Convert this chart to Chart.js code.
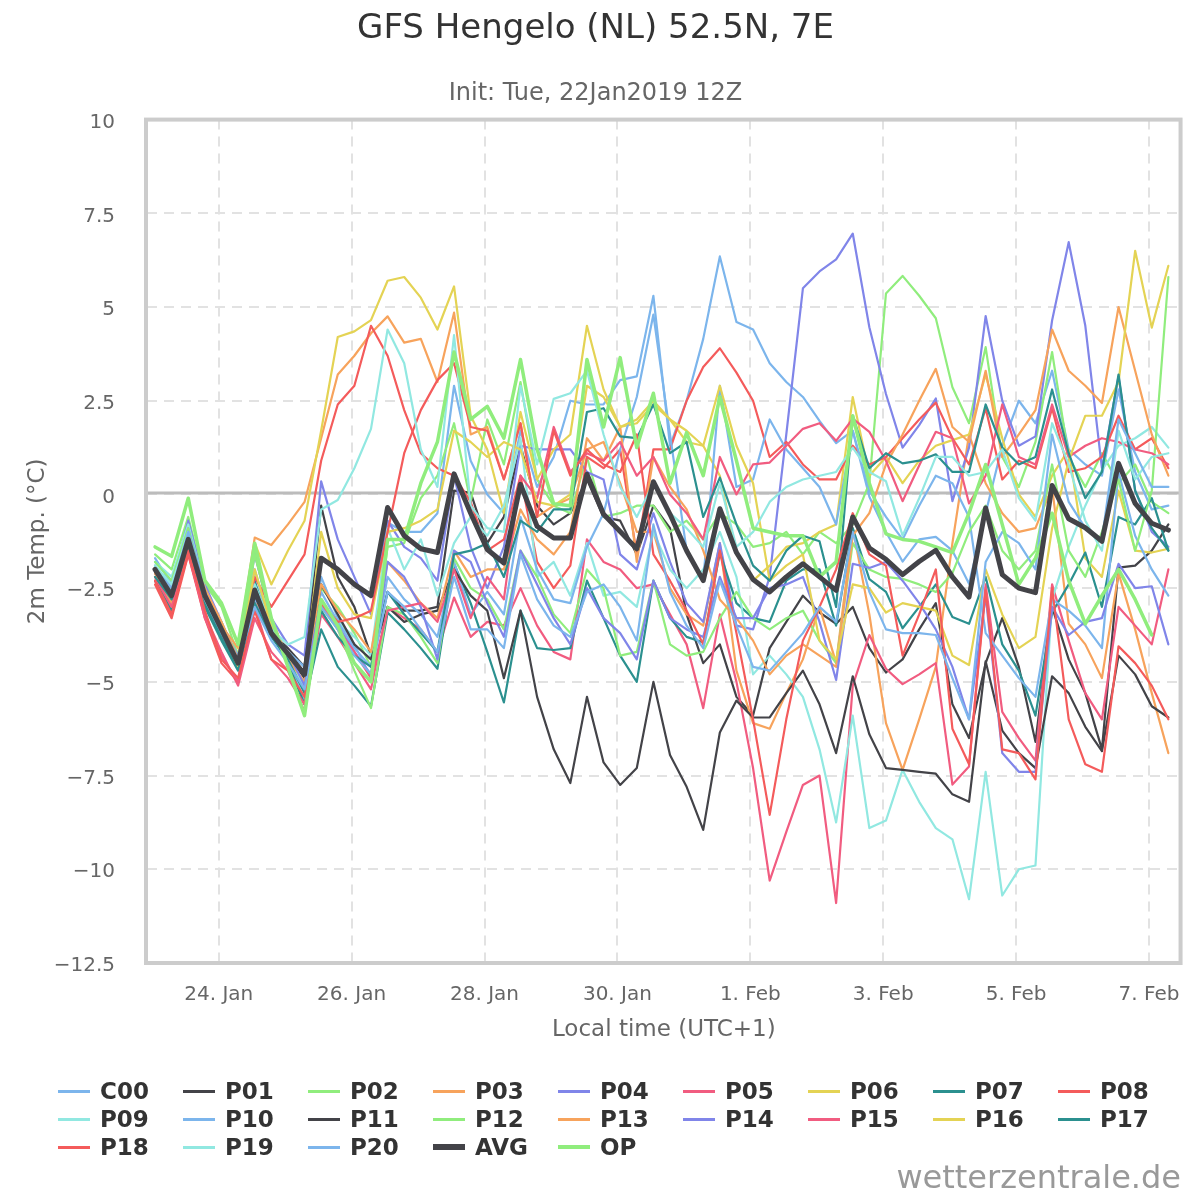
<!DOCTYPE html>
<html><head><meta charset="utf-8">
<script src="https://cdn.jsdelivr.net/npm/chart.js@4.4.1/dist/chart.umd.min.js"></script>
<style>
html,body{margin:0;padding:0;background:#fff;}
#wrap{position:relative;width:1200px;height:1200px;font-family:'DejaVu Sans',sans-serif;overflow:hidden;}
#c{position:absolute;left:0;top:0;}
.li{position:absolute;height:28px;display:flex;align-items:center;white-space:nowrap;}
.sym{display:inline-block;width:32px;}
.lt{font-weight:bold;font-size:23px;color:#333;margin-left:10px;line-height:28px;}
#credit{position:absolute;right:19px;top:1156px;font-size:32px;color:#999;line-height:42px;}
</style></head>
<body><div id="wrap"><canvas id="c" width="1200" height="1200"></canvas><div id="legend"></div><div id="credit">wetterzentrale.de</div></div>
<script>
const FF = "'DejaVu Sans', sans-serif";
const chartTitle = 'GFS Hengelo (NL) 52.5N, 7E';
const chartSubtitle = 'Init: Tue, 22Jan2019 12Z';
// hours since 24 Jan 00:00 local time
const hours = [-23,-17,-11,-5,1,7,13,19,25,31,37,43,49,55,61,67,73,79,85,91,97,103,109,115,121,127,133,139,145,151,157,163,169,175,181,187,193,199,205,211,217,223,229,235,241,247,253,259,265,271,277,283,289,295,301,307,313,319,325,331,337,343];
const tickHours = [0,48,96,144,192,240,288,336];
const tickLabels = ['24. Jan','26. Jan','28. Jan','30. Jan','1. Feb','3. Feb','5. Feb','7. Feb'];
const yTicks = [-12.5,-10,-7.5,-5,-2.5,0,2.5,5,7.5,10];

const C00 = [-1.7,-2.4,-0.7,-2.6,-3.6,-4.4,-2.0,-3.6,-4.4,-5.5, -2.2,-3.3,-4.0,-4.9,-0.75,-1.0,-1.0,-0.5,2.9,0.9, 0.0,-0.5,1.7,0.2,1.0,2.5,2.4,2.4,3.05,3.15, 5.3,1.3,2.5,4.15,6.35,4.6,4.4,3.5,3.0,2.6, 1.96,1.37,1.7,-0.06,-1.0,-1.79,-1.2,-1.13,-1.5,-2.38, -0.5,1.3,2.5,1.9,3.3,1.2,0.8,0.5,2.8,0.6,-0.4,-0.3];
const P01 = [-2.1,-2.8,-1.3,-2.9,-3.8,-4.6,-2.5,-3.7,-4.1,-4.6, -0.3,-2.2,-3.0,-4.3,-2.6,-3.1,-3.1,-3.0,0.1,0.05, -1.3,-0.6,1.3,-0.3,-0.8,-0.5,0.4,-0.6,-0.7,-1.6, -0.3,-0.9,-3.2,-4.5,-4.0,-5.4,-5.9,-4.1,-3.4,-2.7, -3.15,-3.45,-3.0,-4.1,-4.75,-4.4,-3.6,-2.9,-5.6,-6.5, -4.5,-3.3,-4.6,-6.6,-3.0,-4.4,-5.3,-6.8,-1.95,-1.9,-1.5,-0.8];
const P02 = [-1.6,-2.0,-0.6,-2.4,-3.0,-4.3,-1.5,-3.5,-4.5,-5.6, -2.5,-3.0,-3.7,-4.6,-1.4,-1.3,-0.1,0.5,1.9,-0.2, 2.0,0.8,3.0,0.4,-0.3,-0.5,1.0,-0.6,-0.5,-0.3, -0.3,-1.0,-0.7,-1.2,-0.5,-0.8,-1.4,-1.3,-1.0,-1.6, -1.0,-1.3,-0.8,0.3,5.36,5.83,5.3,4.7,2.86,1.9, 3.93,1.0,0.2,1.4,3.8,1.0,0.2,1.1,0.3,0.8,-0.2,-0.5];
const P03 = [-2.1,-2.9,-1.2,-2.8,-3.5,-4.1,-1.15,-1.35,-0.8,-0.2, 1.5,3.2,3.7,4.3,4.75,4.05,4.15,3.0,4.85,1.6, 1.8,0.4,1.9,-0.6,-0.3,-0.1,1.2,1.4,0.3,-1.0, -1.0,-2.5,-3.2,-3.5,-1.3,-4.7,-6.1,-6.25,-5.3,-4.4, -3.0,-4.5,-0.9,-3.2,-6.1,-7.35,-6.0,-4.6,-1.3,1.6, 0.3,-0.5,-1.0,-0.9,0.2,-3.45,-4.0,-4.9,-2.1,-3.6,-5.3,-6.9];
const P04 = [-1.9,-2.5,-0.7,-2.4,-3.4,-4.4,-1.6,-3.3,-4.0,-4.3, 0.35,-1.2,-2.2,-3.2,-0.7,-1.4,-1.7,-2.3,0.5,-1.4, -2.5,-1.4,1.3,1.2,1.2,1.2,0.6,0.4,-1.6,-2.0, -0.5,-1.8,-2.9,-3.4,-1.3,-3.5,-3.6,-2.2,1.6,5.5, 5.95,6.27,6.96,4.46,2.68,1.25,1.85,2.56,-0.18,1.25, 4.76,2.5,1.3,1.55,4.64,6.73,4.5,0.7,3.15,0.1,-1.0,-1.4];
const P05 = [-2.3,-3.1,-1.6,-3.2,-4.2,-5.1,-3.3,-4.2,-4.7,-5.8, -3.2,-3.8,-4.5,-5.2,-3.0,-3.3,-3.6,-4.2,-2.75,-3.8, -3.4,-3.5,-2.5,-3.5,-4.2,-4.4,-1.2,-1.8,-2.0,-2.5, -2.4,-3.2,-4.0,-5.7,-3.2,-5.0,-7.3,-10.3,-9.0,-7.75, -7.5,-10.9,-5.1,-3.75,-4.65,-5.06,-4.8,-4.5,-7.74,-7.26, -2.4,-5.8,-6.5,-7.1,-2.4,-3.9,-5.3,-6.0,-3.0,-3.5,-4.0,-2.0];
const P06 = [-2.0,-2.6,-1.1,-2.6,-3.5,-4.3,-1.3,-2.4,-1.5,-0.7, 1.7,4.2,4.35,4.65,5.7,5.8,5.25,4.4,5.55,2.1, 1.2,-0.5,2.2,0.4,1.2,1.6,4.5,2.8,1.8,1.9, 2.4,2.0,1.4,1.3,0.5,-1.6,-2.3,-1.9,-1.4,-1.3, -1.0,-0.8,2.6,0.5,1.0,0.3,0.9,1.3,1.45,1.6, 3.2,1.5,0.0,-0.6,0.5,1.2,-1.7,-2.2,0.1,-1.5,-1.55,-1.45];
const P07 = [-2.3,-3.1,-1.3,-2.9,-3.8,-4.6,-2.3,-3.7,-4.5,-5.6, -3.6,-4.6,-5.1,-5.65,-3.15,-3.6,-4.1,-4.65,-1.85,-2.9, -4.2,-5.55,-3.1,-4.1,-4.15,-4.1,-2.3,-3.3,-4.3,-5.0, -2.3,-3.3,-3.8,-3.95,-1.55,-2.9,-3.3,-3.4,-2.3,-2.0, -2.0,-3.5,-0.9,-2.26,-2.6,-3.57,-3.0,-2.4,-3.27,-3.45, -2.2,-4.0,-4.7,-5.9,-3.15,-2.4,-1.55,-3.0,-0.6,-0.8,-0.1,-1.5];
const P08 = [-2.4,-3.3,-1.6,-3.3,-4.5,-5.0,-2.2,-3.0,-2.3,-1.6, 0.9,2.4,2.9,4.5,3.7,2.25,1.1,0.7,0.5,-0.2, -1.5,-1.2,0.5,-1.8,-2.5,-1.9,1.0,0.7,1.2,-1.6, 1.2,1.2,2.5,3.4,3.9,3.25,2.5,1.0,1.4,0.8, 0.4,0.4,1.3,0.8,1.0,1.5,2.0,2.45,1.5,0.8, 2.3,0.4,0.9,0.7,2.3,0.6,0.7,1.0,2.1,1.2,1.5,0.7];
const P09 = [-1.8,-2.2,-0.8,-2.5,-3.5,-4.4,-2.4,-3.5,-4.3,-5.2, -3.0,-3.4,-3.8,-4.3,-0.9,-2.0,-1.2,-2.7,-1.3,-0.6, -1.1,-0.3,1.5,-2.2,-1.8,-2.7,-1.3,-2.7,-2.6,-3.0, -1.0,-2.0,-2.5,-2.0,-1.0,-2.2,-4.8,-4.3,-4.8,-5.4, -6.8,-8.75,-5.9,-8.9,-8.7,-7.35,-8.2,-8.9,-9.2,-10.8, -7.4,-10.7,-10.0,-9.9,-2.8,-1.4,-0.3,0.65,1.3,1.5,1.8,1.25];
const P10 = [-1.9,-2.5,-0.9,-2.5,-3.5,-4.3,-2.8,-3.8,-4.2,-4.6, -2.6,-3.4,-4.1,-4.6,-2.2,-2.8,-3.2,-3.8,-1.8,-3.2, -2.6,-3.2,-0.6,-2.0,-2.8,-2.9,-1.4,-0.5,1.2,2.6, 4.8,1.6,-1.5,-2.3,2.9,0.2,0.4,2.0,1.2,0.7, 0.2,-0.8,1.7,0.1,-0.6,-1.2,-0.3,0.5,0.3,-0.6, -3.7,-4.3,-4.9,-5.4,-2.8,-3.1,-3.5,-4.1,0.6,-1.1,-2.0,-2.7];
const P11 = [-2.0,-2.7,-1.1,-2.7,-3.6,-4.5,-2.7,-3.6,-4.3,-4.9, -2.4,-3.2,-4.0,-4.4,-3.0,-3.4,-3.2,-3.1,-2.0,-2.7, -3.1,-4.9,-3.1,-5.4,-6.8,-7.7,-5.4,-7.15,-7.75,-7.3, -5.0,-6.95,-7.8,-8.95,-6.35,-5.5,-5.95,-5.95,-5.3,-4.7, -5.6,-6.9,-4.85,-6.4,-7.3,-7.35,-7.4,-7.45,-8.0,-8.2, -4.45,-6.3,-6.9,-7.3,-4.85,-5.3,-6.2,-6.85,-4.3,-4.8,-5.65,-5.95];
const P12 = [-1.8,-2.3,-0.9,-2.7,-3.4,-4.5,-1.6,-3.3,-4.4,-5.3, -3.0,-3.6,-4.7,-5.7,-3.0,-3.2,-3.8,-4.5,-1.7,-2.5, -2.8,-3.6,-1.5,-2.2,-3.2,-3.7,-2.0,-2.5,-4.3,-4.2, -2.3,-4.0,-4.3,-4.2,-3.3,-2.6,-3.3,-3.6,-3.3,-3.1, -3.9,-4.5,-1.3,-2.0,-2.2,-2.25,-2.4,-2.6,-2.1,-1.0, -0.3,-1.5,-2.0,-1.5,0.8,-1.5,-2.2,-1.0,0.4,-1.5,0.1,5.8];
const P13 = [-2.2,-2.8,-1.3,-2.5,-3.4,-4.4,-2.9,-3.3,-4.4,-5.0, -2.4,-3.1,-3.6,-4.2,-1.8,-2.3,-2.9,-3.3,-1.5,-2.2, -2.0,-2.0,-0.4,-1.2,-1.6,-1.0,1.5,0.9,1.8,-1.8, 1.0,0.2,-0.4,-1.5,-2.8,-3.3,-3.9,-4.8,-4.3,-4.0, -4.3,-4.6,-1.1,-0.5,0.8,1.6,2.5,3.35,1.8,1.4, 3.3,1.0,1.6,2.25,4.4,3.3,2.9,2.44,5.0,3.3,1.6,0.5];
const P14 = [-2.0,-2.7,-1.0,-2.6,-3.6,-4.5,-2.9,-3.7,-4.2,-5.1, -2.8,-3.5,-4.2,-4.8,-1.8,-2.2,-3.0,-4.4,-1.5,-1.8, -2.9,-3.8,-1.5,-2.4,-3.3,-4.0,-2.5,-3.3,-3.7,-4.4, -2.3,-3.3,-3.6,-3.8,-2.2,-3.3,-3.3,-2.5,-2.4,-2.2, -3.4,-4.95,-1.85,-1.96,-1.8,-2.3,-2.9,-3.6,-4.6,-6.0, -2.7,-6.9,-7.4,-7.4,-3.0,-3.75,-3.4,-3.3,-1.85,-2.5,-2.45,-4.0];
const P15 = [-2.2,-3.0,-1.5,-3.3,-4.3,-5.0,-3.0,-4.4,-4.9,-5.6, -2.9,-3.6,-4.2,-4.9,-3.1,-3.0,-2.9,-3.4,-2.0,-3.3, -2.2,-2.8,0.5,-0.1,1.8,0.6,1.1,0.9,1.4,0.5, 1.0,0.0,-0.5,-1.2,1.0,0.0,0.8,0.85,1.3,1.75, 1.9,1.43,2.02,1.67,0.9,-0.18,0.77,1.67,1.5,-0.24, 0.5,2.4,1.0,0.8,2.4,1.0,1.3,1.5,1.4,1.2,1.1,0.8];
const P16 = [-2.0,-2.7,-1.2,-2.8,-3.6,-4.6,-2.0,-3.5,-4.3,-4.8, -1.0,-2.5,-3.2,-3.3,-1.0,-0.9,-0.7,-0.4,1.7,1.4, 1.0,1.4,1.2,-0.2,-0.3,0.0,2.9,2.6,1.8,2.0, 2.5,2.0,1.7,1.3,2.9,1.3,0.3,-2.3,-1.9,-1.6, -3.9,-4.4,-2.4,-2.5,-3.15,-2.9,-3.0,-3.1,-4.3,-4.55, -2.0,-3.2,-4.1,-3.8,-0.9,0.9,2.1,2.1,3.0,6.5,4.45,6.1];
const P17 = [-2.2,-2.8,-1.4,-3.0,-3.9,-4.7,-2.9,-3.8,-4.4,-5.3, -3.1,-3.8,-4.3,-4.6,-2.6,-3.2,-3.7,-4.2,-1.6,-1.5, -1.3,-2.2,-0.7,-1.0,-0.4,-0.4,2.2,2.3,1.55,1.5, 2.4,1.1,1.4,-0.6,0.45,-0.8,-1.9,-2.3,-1.5,-1.1, -1.25,-3.0,2.1,0.7,1.1,0.83,0.9,1.07,0.6,0.6, 2.4,1.25,0.8,1.0,2.8,1.1,-0.1,0.6,3.2,0.1,-0.9,-1.5];
const P18 = [-2.3,-3.2,-1.5,-3.1,-4.4,-4.9,-3.1,-4.4,-4.7,-5.4, -2.9,-3.4,-3.3,-3.1,-1.0,1.1,2.25,3.05,3.5,1.8, 1.7,0.4,1.9,-0.6,1.7,0.5,1.2,0.8,0.6,1.6, -1.6,-2.3,-3.1,-4.0,-1.5,-3.7,-6.0,-8.55,-6.0,-3.9, -3.0,-2.0,-0.5,-1.6,-1.9,-4.3,-3.2,-2.0,-6.25,-7.2, -2.56,-6.8,-6.9,-7.6,-2.5,-6.0,-7.2,-7.4,-4.05,-4.5,-5.1,-6.0];
const P19 = [-1.9,-2.4,-1.0,-2.7,-3.6,-4.5,-2.6,-3.6,-4.0,-3.8, -0.4,-0.15,0.7,1.75,4.4,3.5,1.2,0.2,4.25,-0.3, -0.9,-1.0,2.9,0.8,2.55,2.7,3.3,1.6,0.2,-0.6, 0.3,-0.5,-0.9,-1.4,0.3,-1.4,-1.0,-0.2,0.2,0.4, 0.5,0.6,1.25,0.6,0.35,-1.1,-0.1,1.0,1.0,0.5, 0.6,1.2,-0.1,-0.7,1.9,0.8,-0.7,-1.5,1.7,0.4,1.0,1.1];
const P20 = [-2.0,-2.6,-1.0,-2.8,-3.7,-4.5,-3.0,-3.9,-4.5,-5.2, -3.0,-3.6,-4.3,-4.8,-2.6,-3.0,-3.6,-4.2,-2.2,-3.6, -3.6,-4.1,-1.6,-2.8,-3.5,-3.8,-2.6,-2.4,-3.0,-3.9, -0.8,-2.6,-3.5,-4.1,-2.3,-3.5,-4.6,-4.7,-4.2,-3.7, -3.0,-3.4,-1.0,-2.6,-3.6,-3.7,-3.7,-3.75,-4.9,-6.0, -1.8,-1.0,-1.3,-2.0,1.6,-0.2,-0.9,-1.2,2.0,1.1,0.2,0.2];
const AVG = [-2.0,-2.7,-1.2,-2.7,-3.6,-4.5,-2.55,-3.7,-4.25,-4.8, -1.7,-2.0,-2.4,-2.7,-0.35,-1.1,-1.45,-1.55,0.55,-0.5, -1.47,-1.83,0.27,-0.85,-1.16,-1.16,0.54,-0.53,-0.99,-1.45, 0.34,-0.53,-1.5,-2.3,-0.38,-1.55,-2.27,-2.6,-2.2,-1.85, -2.2,-2.56,-0.6,-1.43,-1.73,-2.14,-1.79,-1.49,-2.2,-2.74, -0.36,-2.14,-2.5,-2.62,0.24,-0.65,-0.89,-1.25,0.83,-0.24,-0.77,-0.95];
const OP = [-1.4,-1.65,-0.1,-2.3,-2.9,-4.0,-1.3,-3.3,-4.6,-5.9, -2.8,-3.5,-4.5,-5.0,-1.2,-1.2,0.3,1.4,3.8,2.0, 2.35,1.5,3.6,1.2,-0.25,-0.3,3.6,1.8,3.65,1.25, 2.7,0.3,1.65,0.5,2.6,0.9,-0.9,-1.0,-1.1,-1.1, -2.2,-1.8,2.1,0.3,-1.05,-1.2,-1.25,-1.4,-1.55,-0.5, 0.8,-0.8,-2.4,-1.7,-0.5,-2.3,-3.45,-2.7,-2.0,-2.8,-3.75,null];

const seriesNames = ['C00','P01','P02','P03','P04','P05','P06','P07','P08','P09','P10','P11','P12','P13','P14','P15','P16','P17','P18','P19','P20','AVG','OP'];
const seriesValues = [C00,P01,P02,P03,P04,P05,P06,P07,P08,P09,P10,P11,P12,P13,P14,P15,P16,P17,P18,P19,P20,AVG,OP];
const palette = ['#7cb5ec','#434348','#90ed7d','#f7a35c','#8085e9','#f15c80','#e4d354','#2b908f','#f45b5b','#91e8e1'];
const seriesColors = seriesNames.map((n,i)=> n==='AVG' ? '#434348' : n==='OP' ? '#90ed7d' : palette[i%10]);
const seriesWidths = seriesNames.map(n=> n==='AVG' ? 5 : n==='OP' ? 3.5 : 2.2);

const datasets = seriesNames.map((name,i)=>({
  label:name,
  data: hours.map((h,k)=>({x:h, y:seriesValues[i][k]})),
  borderColor: seriesColors[i],
  backgroundColor: seriesColors[i],
  borderWidth: seriesWidths[i],
  pointRadius:0, fill:false, tension:0, spanGaps:false,
  borderJoinStyle:'round', borderCapStyle:'round',
  order: name==='AVG' ? 0 : name==='OP' ? 1 : 100 - i
}));

const hcGrid = {
  id:'hcGrid',
  beforeDatasetsDraw(chart){
    const {ctx, chartArea:a, scales:{x,y}} = chart;
    ctx.save();
    ctx.strokeStyle='#e2e2e2'; ctx.lineWidth=2; ctx.setLineDash([10,7]);
    yTicks.forEach(v=>{ const py=Math.round(y.getPixelForValue(v)); ctx.beginPath(); ctx.moveTo(a.left,py); ctx.lineTo(a.right,py); ctx.stroke(); });
    tickHours.forEach(v=>{ const px=Math.round(x.getPixelForValue(v)); ctx.beginPath(); ctx.moveTo(px,a.top); ctx.lineTo(px,a.bottom); ctx.stroke(); });
    ctx.setLineDash([]);
    ctx.strokeStyle='#bcbcbc'; ctx.lineWidth=3;
    const z = y.getPixelForValue(0) - 1.5;
    ctx.beginPath(); ctx.moveTo(a.left,z); ctx.lineTo(a.right,z); ctx.stroke();
    ctx.restore();
  },
  afterDraw(chart){
    const {ctx, chartArea:a} = chart;
    ctx.save(); ctx.strokeStyle='#cccccc'; ctx.lineWidth=4;
    ctx.strokeRect(a.left-1, a.top, a.right-a.left+1, a.bottom-a.top);
    ctx.restore();
  }
};

new Chart(document.getElementById('c').getContext('2d'), {
  type:'line',
  data:{datasets},
  options:{
    responsive:false, animation:false, devicePixelRatio:1,
    layout:{padding:{top:0,left:10,right:19,bottom:155}},
    plugins:{
      legend:{display:false}, tooltip:{enabled:false},
      title:{display:true,text:chartTitle,color:'#333333',font:{family:FF,size:34,weight:'normal'},padding:{top:9,bottom:0}},
      subtitle:{display:true,text:chartSubtitle,color:'#666666',font:{family:FF,size:24,weight:'normal'},padding:{top:30,bottom:11}}
    },
    scales:{
      x:{type:'linear',min:-25.9,max:347.4,
        grid:{display:false,drawTicks:false}, border:{display:false},
        afterBuildTicks:(s)=>{ s.ticks = tickHours.map(v=>({value:v})); },
        afterFit:(s)=>{ s.height = 82; },
        ticks:{autoSkip:false,maxRotation:0,minRotation:0,padding:20,color:'#666666',font:{family:FF,size:20},
          callback:(v,i)=> tickLabels[i] ?? ''},
        title:{display:true,text:'Local time (UTC+1)',color:'#666666',font:{family:FF,size:23},padding:{top:0,bottom:1}}
      },
      y:{type:'linear',min:-12.5,max:10,
        grid:{display:false,drawTicks:false}, border:{display:false},
        afterBuildTicks:(s)=>{ s.ticks = yTicks.map(v=>({value:v})); },
        afterFit:(s)=>{ s.width = 137; },
        ticks:{padding:32,labelOffset:3,color:'#666666',font:{family:FF,size:20},
          callback:(v)=> String(v).replace('-','\u2212')},
        title:{display:true,text:'2m Temp. (°C)',color:'#666666',font:{family:FF,size:23},padding:{top:14,bottom:0}}
      }
    }
  },
  plugins:[hcGrid]
});

// legend grid (9 columns)
const legend = document.getElementById('legend');
const rowCenters = [1091,1119,1147];
seriesNames.forEach((name,i)=>{
  const col = i % 9, row = Math.floor(i/9);
  const item = document.createElement('div');
  item.className='li';
  item.style.left = (58 + 125*col) + 'px';
  item.style.top = (rowCenters[row] - 14) + 'px';
  const sym = document.createElement('span');
  sym.className='sym';
  sym.style.height = (name==='AVG' ? 6 : name==='OP' ? 4 : 3) + 'px';
  sym.style.background = seriesColors[i];
  const t = document.createElement('span');
  t.className='lt'; t.textContent = name;
  item.appendChild(sym); item.appendChild(t);
  legend.appendChild(item);
});
</script>
</body></html>
